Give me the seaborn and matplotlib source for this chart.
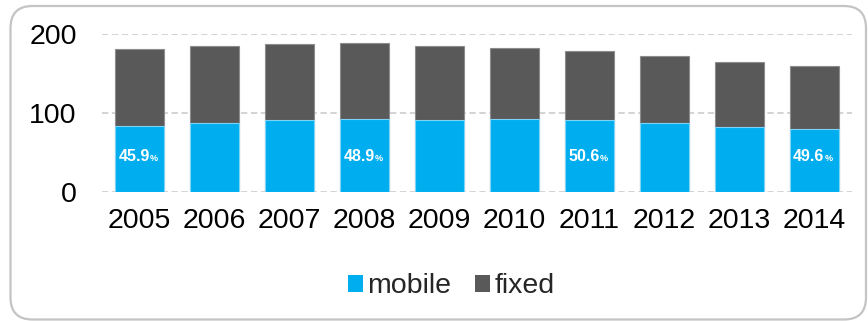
import matplotlib
matplotlib.use("Agg")
import matplotlib.pyplot as plt
from matplotlib.patches import FancyBboxPatch, Patch
from matplotlib.transforms import IdentityTransform
import pandas as pd
import seaborn as sns

# Revenue by segment per year
years = ["2005", "2006", "2007", "2008", "2009", "2010", "2011", "2012", "2013", "2014"]
mobile = [83.3, 87.0, 90.8, 92.2, 90.8, 92.0, 90.6, 87.3, 81.9, 79.4]
fixed = [98.2, 97.4, 97.0, 96.4, 93.6, 90.3, 88.4, 85.4, 82.3, 80.6]
share_years = ["2005", "2008", "2011", "2014"]
y_ticks = [0, 100, 200]

BLUE = "#00AEEF"
GREY = "#595959"

df = pd.DataFrame({"year": years, "mobile": mobile, "fixed": fixed})
df["total"] = df["mobile"] + df["fixed"]

sns.set_theme(style="white")
plt.rcParams["font.family"] = ["Liberation Sans", "DejaVu Sans"]

fig = plt.figure(figsize=(8.68, 3.21), dpi=100)
ax = fig.add_axes([0.1172, 0.4028, 0.864, 0.4913])

# stacked bars: full height in grey, mobile part drawn over it in blue
sns.barplot(data=df, x="year", y="total", color=GREY, saturation=1, width=0.655,
            edgecolor="#8c8c8c", linewidth=0.8, ax=ax)
sns.barplot(data=df, x="year", y="mobile", color=BLUE, saturation=1, width=0.655,
            edgecolor="#7fd3f5", linewidth=0.8, ax=ax)

ax.set_xlim(-0.5, len(years) - 0.5)
ax.set_ylim(0, 200)
ax.set_yticks(y_ticks)
ax.set_xlabel("")
ax.set_ylabel("")
for s in ax.spines.values():
    s.set_visible(False)
ax.grid(axis="y", color="#d0d0d0", linestyle=(0, (3.5, 2)), linewidth=1.3)
ax.grid(axis="x", visible=False)
ax.set_axisbelow(True)
ax.tick_params(axis="y", length=0, pad=18, labelsize=20.5, labelcolor="black")
ax.tick_params(axis="x", length=0, pad=12, labelsize=20.5, labelcolor="black")

# mobile share labels
for yr in share_years:
    i = years.index(yr)
    share = 100 * df["mobile"][i] / df["total"][i]
    t = ax.text(i - 0.07, 44.6, f"{share:.1f}", ha="center", va="center",
                color="white", fontsize=11.5, fontweight="bold")
    ax.annotate("%", xy=(1, 0.1), xycoords=t, ha="left", va="bottom",
                color="white", fontsize=6.5, fontweight="bold")

handles = [Patch(facecolor=BLUE, edgecolor="none"), Patch(facecolor=GREY, edgecolor="none")]
fig.legend(handles, ["mobile", "fixed"], loc="center", bbox_to_anchor=(0.52, 0.108),
           ncol=2, frameon=False, fontsize=20.5, handlelength=0.52, handleheight=0.52,
           handletextpad=0.15, columnspacing=0.85, borderaxespad=0)

# rounded frame around the chart
frame = FancyBboxPatch((10.5, 1.5), 855.5, 313.5, boxstyle="round,pad=0,rounding_size=22",
                       transform=IdentityTransform(), facecolor="none",
                       edgecolor="#c4c4c4", linewidth=1.6, zorder=0)
fig.add_artist(frame)

fig.savefig("out.png", dpi=100)
